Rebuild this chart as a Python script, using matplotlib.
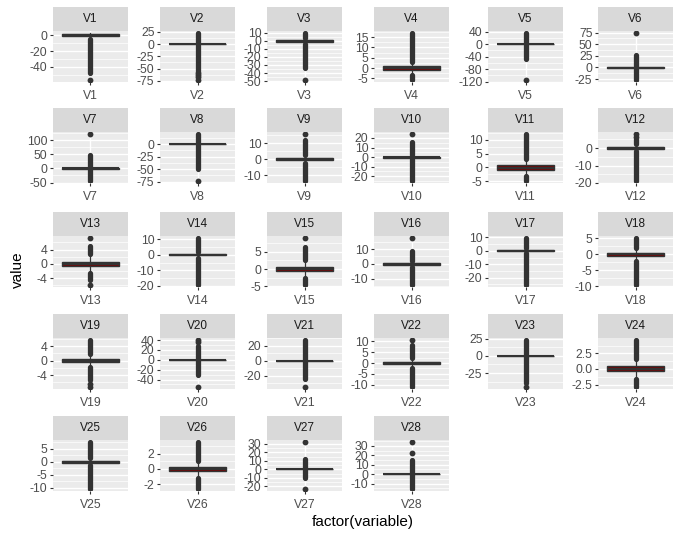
import matplotlib
matplotlib.use("Agg")
import matplotlib.pyplot as plt
from matplotlib.ticker import FixedLocator

plt.rcParams['font.family'] = ['Liberation Sans', 'DejaVu Sans']
plt.rcParams['axes.unicode_minus'] = False

names = ["V%d" % i for i in range(1, 29)]

# box stats: first quartile, median, third quartile, whisker ends
q1 = [-0.920, -0.599, -0.890, -0.849, -0.692, -0.768, -0.554, -0.209, -0.643, -0.535,
      -0.762, -0.406, -0.649, -0.426, -0.583, -0.468, -0.484, -0.499, -0.456, -0.212,
      -0.228, -0.542, -0.162, -0.355, -0.317, -0.327, -0.071, -0.053]
med = [0.018, 0.065, 0.180, -0.020, -0.054, -0.274, 0.040, 0.022, -0.051, -0.093,
       -0.033, 0.140, -0.014, 0.051, 0.048, 0.066, -0.066, -0.004, 0.004, -0.062,
       -0.029, 0.007, -0.011, 0.041, 0.017, -0.052, 0.001, 0.011]
q3 = [1.316, 0.804, 1.027, 0.743, 0.612, 0.399, 0.570, 0.327, 0.597, 0.454,
      0.740, 0.618, 0.663, 0.493, 0.649, 0.523, 0.400, 0.501, 0.459, 0.133,
      0.186, 0.529, 0.148, 0.440, 0.351, 0.241, 0.091, 0.078]
whisk_lo = [-4.27, -2.70, -3.77, -3.24, -2.65, -2.52, -2.24, -1.01, -2.50, -2.02,
            -3.01, -1.94, -2.62, -1.80, -2.43, -1.95, -1.81, -2.00, -1.83, -0.73,
            -0.85, -2.15, -0.63, -1.55, -1.32, -1.18, -0.31, -0.25]
whisk_hi = [2.45, 2.91, 3.90, 3.13, 2.57, 2.15, 2.26, 1.13, 2.46, 1.94,
            2.99, 2.15, 2.63, 1.87, 2.50, 2.01, 1.73, 2.00, 1.83, 0.65,
            0.81, 2.14, 0.61, 1.63, 1.35, 1.09, 0.33, 0.27]

# outliers: far end of the dense run of points below / above the whiskers
dense_lo = [-48, -56, -33.7, -5.68, -47, -26.16, -43.56, -50, -13.43, -24.59,
            -4.80, -18.68, -4.6, -19.21, -4.50, -14.13, -25.16, -9.50, -5.3, -30,
            -24, -10.93, -40, -2.84, -10.30, -2.60, -10, -15.43]
dense_hi = [None, 22.06, 9.38, 16.88, 34.8, 26, 47, 20.0, 12, 16,
            12.02, 5, 5, 10.53, 6.3, 9, 9.25, 5.04, 5.59, 28,
            27.2, 8.5, 22.5, 4.58, 7.52, 3.52, 12, 15]
# isolated outliers
isolated = [[-56.4], [-60, -63.5, -67, -72.7], [-48.3], [], [-113.7], [73.3], [120.6], [-73.2],
            [15.6], [23.75], [], [6.5, 7.85], [-5.79, 7.13], [], [8.88], [17.32], [], [],
            [-6.6, -7.21], [-54.5, 36, 39.4], [-34.8], [10.5], [-44.8], [], [], [],
            [-22.6, 31.6], [22, 33.85]]

yticks = [[-40, -20, 0], [-75, -50, -25, 0, 25], [-50, -40, -30, -20, -10, 0, 10],
          [-5, 0, 5, 10, 15], [-120, -80, -40, 0, 40], [-25, 0, 25, 50, 75],
          [-50, 0, 50, 100], [-75, -50, -25, 0], [-10, 0, 10], [-20, -10, 0, 10, 20],
          [-5, 0, 5, 10], [-20, -10, 0], [-4, 0, 4], [-20, -10, 0, 10], [-5, 0, 5],
          [-10, 0, 10], [-20, -10, 0, 10], [-10, -5, 0, 5], [-4, 0, 4],
          [-40, -20, 0, 20, 40], [-20, 0, 20], [-10, -5, 0, 5, 10], [-25, 0, 25],
          [-2.5, 0.0, 2.5], [-10, -5, 0, 5], [-2, 0, 2], [-20, -10, 0, 10, 20, 30],
          [-10, 0, 10, 20, 30]]

W, H = 681, 538
fig = plt.figure(figsize=(W / 100, H / 100), dpi=100)

col_left = [53, 160, 267, 374, 488, 598]
strip_top = [7, 108, 212, 314, 416]
pw, sh, ph = 75, 24, 51

dark = "#333333"

for i, nm in enumerate(names):
    r, c = divmod(i, 6)
    x0 = col_left[c]
    y0 = strip_top[r]
    sax = fig.add_axes([x0 / W, 1 - (y0 + sh) / H, pw / W, sh / H])
    sax.set_facecolor("#D9D9D9")
    sax.set_xticks([])
    sax.set_yticks([])
    for s in sax.spines.values():
        s.set_visible(False)
    sax.text(0.5, 0.48, nm, ha="center", va="center", fontsize=8.5, color="#1A1A1A",
             transform=sax.transAxes)

    ax = fig.add_axes([x0 / W, 1 - (y0 + sh + ph) / H, pw / W, ph / H])
    ax.set_facecolor("#EBEBEB")
    for s in ax.spines.values():
        s.set_visible(False)

    vals = [dense_lo[i], whisk_hi[i]] + isolated[i]
    if dense_hi[i] is not None:
        vals.append(dense_hi[i])
    lo, hi = min(vals), max(vals)
    pad = (hi - lo) * 0.05

    stats = [dict(med=med[i], q1=q1[i], q3=q3[i], whislo=whisk_lo[i], whishi=whisk_hi[i],
                  fliers=[])]
    ax.bxp(stats, positions=[1], widths=0.9, patch_artist=True, showcaps=False,
           manage_ticks=False,
           boxprops=dict(facecolor="#720808", edgecolor=dark, linewidth=1.0),
           medianprops=dict(color=dark, linewidth=1.5),
           whiskerprops=dict(color=dark, linewidth=0.9), zorder=3)

    ax.vlines(1, dense_lo[i], whisk_lo[i], color=dark, linewidth=3.8,
              capstyle="round", zorder=2)
    if dense_hi[i] is not None:
        ax.vlines(1, whisk_hi[i], dense_hi[i], color=dark, linewidth=3.8,
                  capstyle="round", zorder=2)
    if isolated[i]:
        ax.plot([1] * len(isolated[i]), isolated[i], "o", color=dark,
                markersize=4.2, markeredgewidth=0, zorder=2)

    ax.set_ylim(lo - pad, hi + pad)
    ax.set_xlim(0.4, 1.6)

    tk = yticks[i]
    ax.yaxis.set_major_locator(FixedLocator(tk))
    minors = [(a + b) / 2 for a, b in zip(tk[:-1], tk[1:])]
    step = tk[1] - tk[0]
    minors += [tk[0] - step / 2, tk[-1] + step / 2]
    ax.yaxis.set_minor_locator(FixedLocator(minors))
    if any(float(t) != int(t) for t in tk):
        ax.set_yticklabels(["%.1f" % t for t in tk])
    else:
        ax.set_yticklabels(["%d" % t for t in tk])
    ax.set_xticks([1])
    ax.set_xticklabels([nm])
    ax.tick_params(axis="both", which="major", length=2.5, width=0.8, color=dark,
                   labelsize=8.8, labelcolor="#4D4D4D", pad=1.5)
    ax.tick_params(axis="y", which="minor", length=0)
    ax.tick_params(axis="x", pad=3)
    ax.grid(True, which="major", color="white", linewidth=1.0)
    ax.grid(True, which="minor", axis="y", color="white", linewidth=0.5)
    ax.set_axisbelow(True)

fig.text(18 / W, 1 - 270 / H, "value", rotation=90, ha="center", va="center",
         fontsize=11, color="black")
fig.text(363 / W, 1 - 522 / H, "factor(variable)", ha="center", va="center",
         fontsize=11, color="black")

fig.savefig("out.png", dpi=100)
